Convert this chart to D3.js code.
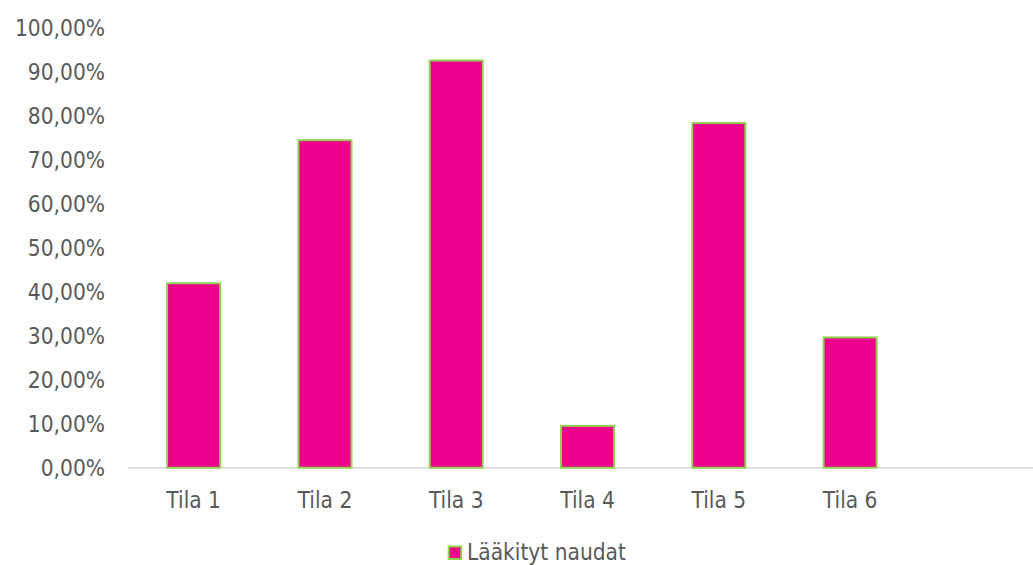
<!DOCTYPE html>
<html><head><meta charset="utf-8">
<script src="https://cdn.jsdelivr.net/npm/d3@7"></script>
<style>html,body{margin:0;padding:0;background:#fff;}svg{display:block;}</style>
</head><body>
<svg id="c" width="1033" height="565"></svg>
<script>
const categories = ["Tila 1","Tila 2","Tila 3","Tila 4","Tila 5","Tila 6",""];
const values = [41.9, 74.4, 92.5, 9.5, 78.3, 29.6];
const yTicks = [0,10,20,30,40,50,60,70,80,90,100];
const seriesName = "Lääkityt naudat";

const svg = d3.select("#c");
const font = "'DejaVu Sans Condensed', 'DejaVu Sans', Verdana, sans-serif";
const fsize = "22.5px";
const txt = "#595959";
const left = 128, bw = 131.3;
const x = d3.scaleBand().domain(categories).range([left, left + bw*categories.length]).paddingInner(0.596).paddingOuter(0.298);
const y = d3.scaleLinear().domain([0,100]).range([467.7, 27.5]);

// axis line
svg.append("line").attr("x1", left).attr("x2", 1033).attr("y1", y(0)).attr("y2", y(0))
  .attr("stroke", "#d9d9d9").attr("stroke-width", 1.5);

// bars
svg.selectAll("rect.bar").data(values).enter().append("rect").attr("class","bar")
  .attr("x", (d,i)=>x(categories[i]))
  .attr("width", x.bandwidth())
  .attr("y", d=>y(d))
  .attr("height", d=>y(0)-y(d))
  .attr("fill", "#EC008C").attr("stroke", "#92D050").attr("stroke-width", 2);

// y axis labels
const fmt = v => v.toFixed(2).replace(".", ",") + "%";
const yAxis = d3.axisLeft(y).tickValues(yTicks).tickFormat(fmt).tickSize(0).tickPadding(0);
const gy = svg.append("g").attr("transform", `translate(105,0)`).call(yAxis);
gy.select(".domain").remove();
gy.selectAll("text").attr("fill", txt).attr("dy", "0.36em")
  .style("font-family", font).style("font-size", fsize);

// x axis labels
const xAxis = d3.axisBottom(x).tickSize(0).tickPadding(0);
const gx = svg.append("g").attr("transform", `translate(0,0)`).call(xAxis);
gx.select(".domain").remove();
gx.selectAll("text").attr("fill", txt).attr("y", 508).attr("dy", 0)
  .style("font-family", font).style("font-size", fsize);

// legend
const lg = svg.append("g");
lg.append("rect").attr("x", 448.7).attr("y", 546.5).attr("width", 12.5).attr("height", 12.5)
  .attr("fill", "#EC008C").attr("stroke", "#92D050").attr("stroke-width", 2);
lg.append("text").attr("x", 467).attr("y", 560).attr("fill", txt)
  .style("font-family", font).style("font-size", fsize).text(seriesName);
</script>
</body></html>
